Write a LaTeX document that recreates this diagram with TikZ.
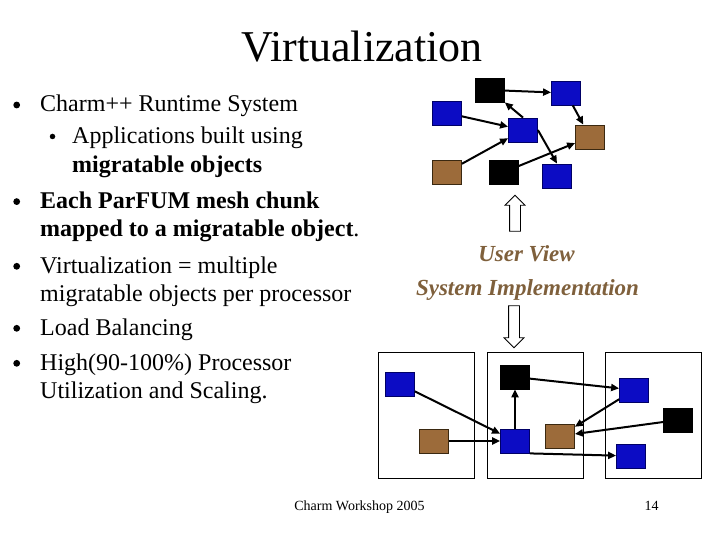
\documentclass[tikz,border=0pt]{standalone}
\usepackage{fontspec}
\setmainfont{Liberation Serif}
\usetikzlibrary{arrows.meta,shapes.arrows}
\definecolor{objblue}{HTML}{0C0CC4}
\definecolor{objnavy}{HTML}{000066}
\definecolor{objbrown}{HTML}{9C6B3A}
\definecolor{brownedge}{HTML}{3A2810}
\definecolor{viewbrown}{HTML}{7F603C}

\begin{document}
\begin{tikzpicture}[
  x=1pt, y=-1pt,
  obj/.style={draw, line width=0.8pt, minimum width=29pt, minimum height=24pt, inner sep=0pt},
  blueobj/.style={obj, draw=objnavy, fill=objblue},
  brownobj/.style={obj, draw=brownedge, fill=objbrown},
  blackobj/.style={obj, fill=black},
  proc/.style={draw, line width=0.9pt, minimum width=96pt, minimum height=126pt, inner sep=0pt},
  msg/.style={-{Triangle[length=8pt,width=7pt]}, line width=2pt},
  bigarrow/.style={draw, line width=0.8pt, single arrow, single arrow head extend=4.5pt, minimum width=19pt, inner sep=5pt},
  item/.style={anchor=base west, align=left, inner sep=0pt, font=\fontsize{24}{28.7}\selectfont},
  bul/.style={circle, fill, inner sep=0pt, minimum size=6.8pt},
  subbul/.style={circle, fill, inner sep=0pt, minimum size=5.5pt},
  view/.style={anchor=base, inner sep=0pt, text=viewbrown, font=\fontsize{23}{28}\selectfont\bfseries\itshape}
]
\useasboundingbox (0,0) rectangle (720,540);

% title and bullets (base = last line)
\node[anchor=base, inner sep=0pt, font=\fontsize{44}{50}\selectfont] (title) at (362,61.7) {Virtualization};

\node[item] (charm) at (40,111.7) {Charm++ Runtime System};
\node[item] (apps) at (72,172.7) {Applications built using\\\textbf{migratable objects}};
\node[item] (chunk) at (40,236.7) {\textbf{Each ParFUM mesh chunk}\\\textbf{mapped to a migratable object}.};
\node[item] (virt) at (40,301.7) {Virtualization = multiple\\migratable objects per processor};
\node[item] (lb) at (40,335) {Load Balancing};
\node[item] (util) at (40,398.7) {High(90-100\%) Processor\\Utilization and Scaling.};

\node[bul] (d1) at (16.7,105) {};
\node[subbul] (d2) at (52.5,136.5) {};
\node[bul] (d3) at (16.7,201.6) {};
\node[bul] (d4) at (16.7,266.3) {};
\node[bul] (d5) at (16.7,328.3) {};
\node[bul] (d6) at (16.7,363.3) {};

% user view
\node[blackobj] (tA) at (490,90) {};
\node[blueobj] (tB) at (566,93) {};
\node[blueobj] (tC) at (447,113) {};
\node[blueobj] (tD) at (523,130) {};
\node[brownobj] (tE) at (590,137) {};
\node[brownobj] (tF) at (447,172) {};
\node[blackobj] (tG) at (504,172) {};
\node[blueobj] (tH) at (557,176) {};

\draw[msg] (tA) -- (tB);
\draw[msg] (tC) -- (tD);
\draw[msg] (tD.north) -- (tA);
\draw[msg] (tB) -- (tE);
\draw[msg] (tD.east) -- (tH.north);
\draw[msg] (tF) -- (tD);
\draw[msg] (tG) -- (tE);

\node[bigarrow, shape border rotate=90, minimum height=36pt] (up) at (515,216) {};
\node[view] (uview) at (526.5,261) {User View};
\node[view] (simpl) at (527.5,295.7) {System Implementation};
\node[bigarrow, shape border rotate=270, minimum height=42pt] (down) at (514,324) {};

% system implementation
\node[proc] (proc1) at (426,415) {};
\node[proc] (proc2) at (535,415) {};
\node[proc] (proc3) at (653,415) {};

\node[blueobj] (sC) at (400,384) {};
\node[brownobj] (sF) at (434,441) {};
\node[blackobj] (sA) at (515,377) {};
\node[blueobj] (sD) at (515,441) {};
\node[brownobj] (sE) at (560,436) {};
\node[blueobj] (sB) at (634,390) {};
\node[blackobj] (sG) at (678,420) {};
\node[blueobj] (sH) at (631,456) {};

\draw[msg] (sC) -- (sD);
\draw[msg] (sF) -- (sD);
\draw[msg] (sD) -- (sA);
\draw[msg] (sA) -- (sB);
\draw[msg] (sB) -- (sE);
\draw[msg] (sG) -- (sE);
\draw[msg] (sD.south east) -- (sH);

% footer
\node[anchor=base, inner sep=0pt, font=\fontsize{14}{16}\selectfont] (foot) at (359.5,510) {Charm Workshop 2005};
\node[anchor=base, inner sep=0pt, font=\fontsize{14}{16}\selectfont] (page) at (651.5,510) {14};
\end{tikzpicture}
\end{document}
